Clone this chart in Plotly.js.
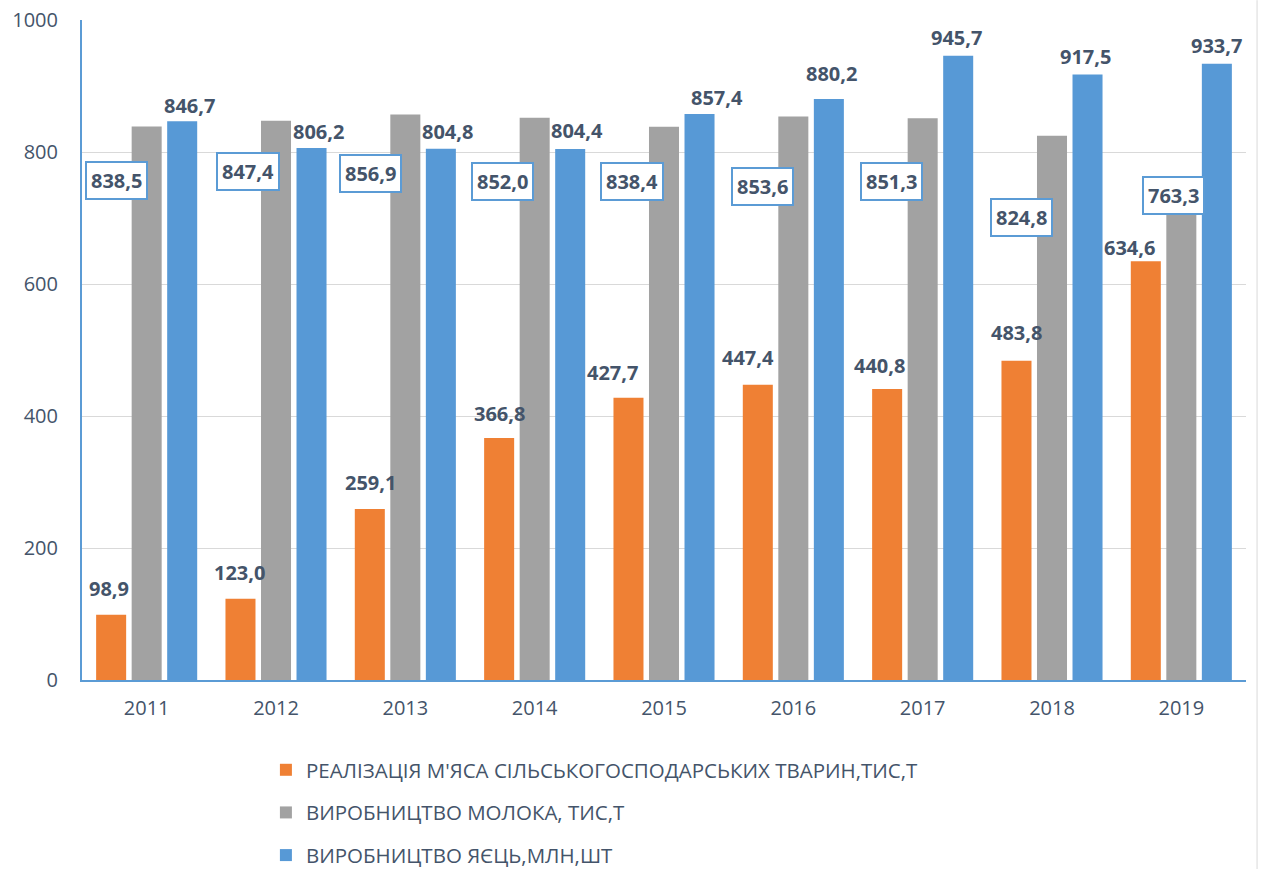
<!DOCTYPE html>
<html><head><meta charset="utf-8">
<script src="https://cdn.plot.ly/plotly-3.0.1.min.js"></script>
<style>body{margin:0;background:#fff}#chart{width:1261px;height:869px}</style>
</head><body><div id="chart"></div>
<script>
const years = ['2011','2012','2013','2014','2015','2016','2017','2018','2019'];
const meat = [98.9,123.0,259.1,366.8,427.7,447.4,440.8,483.8,634.6];
const milk = [838.5,847.4,856.9,852.0,838.4,853.6,851.3,824.8,763.3];
const eggs = [846.7,806.2,804.8,804.4,857.4,880.2,945.7,917.5,933.7];
const seriesNames = [
  'РЕАЛІЗАЦІЯ М\'ЯСА СІЛЬСЬКОГОСПОДАРСЬКИХ ТВАРИН,ТИС,Т',
  'ВИРОБНИЦТВО МОЛОКА, ТИС,Т',
  'ВИРОБНИЦТВО ЯЄЦЬ,МЛН,ШТ'
];
// label placement (styling only, pixel offsets / label anchor levels)
const meatLabelDx = [-2,-1,1,0,-16,-10,-8,0,-16];
const meatLabelDy = [26,26,26,24,25,27,24,28,14];
const eggLabelDx  = [7,7,7,7,17,3,-2,-2,0];
const eggLabelDy  = [16,16,17,19,17,26,18,18,18];
const milkLabelLevel = [757,770,767,755,756,748,756,701,734];
const milkLabelDx = [-30,-28,-35,-32,-32,-31,-31,-31,-8];

const fmt = v => v.toFixed(1).replace('.', ',');
const txtColor = '#44546A';
const font = 'Open Sans, Noto Sans, sans-serif';

const bargap = 0.176, plotW = 1164;
const slot = plotW / years.length * (1 - bargap) / 3;

const traces = [
  {type:'bar', x:years, y:meat, name:seriesNames[0], legendgroup:'a', marker:{color:'#EF8034'}, hoverinfo:'skip'},
  {type:'bar', x:years, y:milk, name:seriesNames[1], legendgroup:'b', marker:{color:'#A2A2A2'}, hoverinfo:'skip'},
  {type:'bar', x:years, y:eggs, name:seriesNames[2], legendgroup:'c', marker:{color:'#5799D6'}, hoverinfo:'skip'}
];

const lblFont = {family:font, size:20, color:txtColor, weight:'bold'};
const annotations = [];
years.forEach((yr, i) => {
  annotations.push({x:i, y:meat[i], xref:'x', yref:'y', text:fmt(meat[i]), showarrow:false,
    xshift:-slot + meatLabelDx[i], yanchor:'middle', yshift:meatLabelDy[i], font:lblFont});
  annotations.push({x:i, y:eggs[i], xref:'x', yref:'y', text:fmt(eggs[i]), showarrow:false,
    xshift:slot + eggLabelDx[i], yanchor:'middle', yshift:eggLabelDy[i], font:lblFont});
  annotations.push({x:i, y:milkLabelLevel[i], xref:'x', yref:'y', text:fmt(milk[i]), showarrow:false,
    xshift:milkLabelDx[i], yanchor:'middle', bgcolor:'#FFFFFF', bordercolor:'#5B9BD5', borderwidth:2,
    borderpad:4, font:lblFont});
});

const layout = {
  width:1261, height:869,
  margin:{l:82, r:15, t:20, b:189, autoexpand:false},
  paper_bgcolor:'#FFFFFF', plot_bgcolor:'#FFFFFF',
  barmode:'group', bargap:bargap, bargroupgap:0.155,
  showlegend:true,
  legend:{orientation:'v', x:0.158, xanchor:'left', y:-0.106, yanchor:'top',
    font:{family:font, size:20.5, color:txtColor}, tracegroupgap:13, itemclick:false},
  xaxis:{type:'category', range:[-0.5, years.length-0.5], showline:true, linecolor:'#5B9BD5', linewidth:2, ticks:'', showgrid:false,
    tickfont:{family:font, size:20, color:txtColor}, ticklabelstandoff:9, fixedrange:true},
  yaxis:{range:[0,1000], dtick:200, showline:true, linecolor:'#5B9BD5', linewidth:2, ticks:'',
    gridcolor:'#D9D9D9', gridwidth:1, zeroline:false,
    tickfont:{family:font, size:20, color:txtColor}, ticklabelstandoff:18, fixedrange:true},
  annotations:annotations,
  shapes:[{type:'line', xref:'paper', yref:'paper', x0:1.0095, x1:1.0095, y0:-0.3, y1:1.03,
    line:{color:'#D9D9D9', width:1}}]
};

Plotly.newPlot('chart', traces, layout, {displayModeBar:false, staticPlot:true});
</script></body></html>
